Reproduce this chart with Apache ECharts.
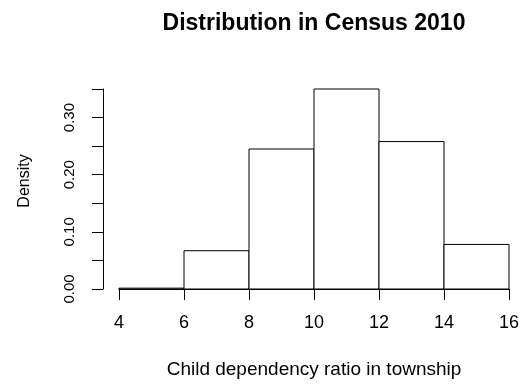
<!DOCTYPE html>
<html>
<head>
<meta charset="utf-8">
<style>
  html, body { margin: 0; padding: 0; background: #fff; }
  #chart { width: 526px; height: 387px; }
</style>
<script src="https://cdn.jsdelivr.net/npm/echarts@6/dist/echarts.min.js"></script>
</head>
<body>
<div id="chart"></div>
<script>
// Histogram bins (left/right edges) and their densities
var binLeft = [4, 6, 8, 10, 12, 14];
var binRight = [6, 8, 10, 12, 14, 16];
var density = [0.0015, 0.067, 0.245, 0.350, 0.258, 0.078];

// Axis ticks
var xTicks = [4, 6, 8, 10, 12, 14, 16];
var yLabelled = [0.00, 0.10, 0.20, 0.30];

var FONT = '"Liberation Sans", Arial, sans-serif';

var chart = echarts.init(document.getElementById('chart'), null, { renderer: 'canvas' });

var bins = binLeft.map(function (l, i) { return [l, binRight[i], density[i]]; });

chart.setOption({
  animation: false,
  backgroundColor: '#ffffff',
  title: {
    text: 'Distribution in Census 2010',
    left: 309,
    textAlign: 'center',
    top: 7,
    textStyle: { fontFamily: FONT, fontSize: 23, fontWeight: 'bold', color: '#000' }
  },
  grid: { left: 119, right: 17, top: 89, bottom: 98 },
  xAxis: {
    type: 'value',
    min: xTicks[0],
    max: xTicks[xTicks.length - 1],
    interval: 2,
    name: 'Child dependency ratio in township',
    nameLocation: 'middle',
    nameGap: 71,
    nameTextStyle: { fontFamily: FONT, fontSize: 19, color: '#000' },
    axisLine: { onZero: false, lineStyle: { color: '#000', width: 1 } },
    axisTick: { length: 11, lineStyle: { color: '#000' } },
    axisLabel: { margin: 25, fontFamily: FONT, fontSize: 18, color: '#000' },
    splitLine: { show: false }
  },
  yAxis: {
    type: 'value',
    min: 0,
    max: 0.35,
    interval: 0.05,
    offset: 16,
    name: 'Density',
    nameLocation: 'middle',
    nameRotate: 90,
    nameGap: 70,
    nameTextStyle: { fontFamily: FONT, fontSize: 16, color: '#000', padding: [0, 0, 0, 16] },
    axisLine: { show: true, lineStyle: { color: '#000', width: 1 } },
    axisTick: { length: 11, lineStyle: { color: '#000' } },
    axisLabel: {
      rotate: 90,
      margin: 26,
      fontFamily: FONT,
      fontSize: 15,
      color: '#000',
      formatter: function (v) {
        for (var i = 0; i < yLabelled.length; i++) {
          if (Math.abs(v - yLabelled[i]) < 1e-9) return v.toFixed(2);
        }
        return '';
      }
    },
    splitLine: { show: false }
  },
  series: [{
    type: 'custom',
    data: bins,
    renderItem: function (params, api) {
      var p0 = api.coord([api.value(0), 0]);
      var p1 = api.coord([api.value(1), api.value(2)]);
      return {
        type: 'rect',
        shape: { x: p0[0], y: p1[1], width: p1[0] - p0[0], height: p0[1] - p1[1] },
        style: { fill: '#ffffff', stroke: '#000000', lineWidth: 1 }
      };
    }
  }]
});
</script>
</body>
</html>
